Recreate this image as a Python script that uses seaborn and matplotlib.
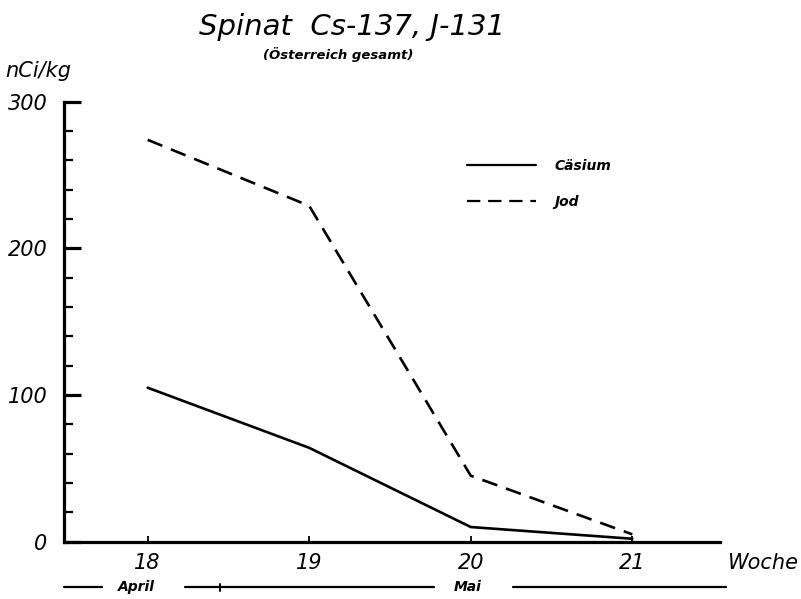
import matplotlib
matplotlib.use("Agg")
import matplotlib.pyplot as plt
import matplotlib.transforms as mtransforms
from matplotlib.ticker import MultipleLocator
import seaborn as sns
import pandas as pd

# Weekly measurements, spinach, all of Austria (nCi/kg)
weeks = [18, 19, 20, 21]
caesium = [105, 64, 10, 2]
iodine = [274, 229, 45, 5]
series_names = ["Cäsium", "Jod"]
week_ticks = [18, 19, 20, 21]
y_ticks = [0, 100, 200, 300]

df = pd.DataFrame({
    "Woche": weeks * 2,
    "Wert": caesium + iodine,
    "Nuklid": [series_names[0]] * len(weeks) + [series_names[1]] * len(weeks),
})

sns.set_theme(style="white")
plt.rcParams["font.family"] = ["DejaVu Sans"]
plt.rcParams["font.style"] = "italic"
plt.rcParams["text.color"] = "black"
plt.rcParams["axes.labelcolor"] = "black"
plt.rcParams["xtick.color"] = "black"
plt.rcParams["ytick.color"] = "black"

fig = plt.figure(figsize=(8.01, 5.99), dpi=100)
ax = fig.add_axes([64 / 801, 1 - 541.7 / 599, 656 / 801, 440 / 599])

sns.lineplot(
    data=df, x="Woche", y="Wert", style="Nuklid",
    dashes={"Cäsium": "", "Jod": (6, 3.5)},
    color="black", linewidth=1.9, ax=ax, legend=True,
)

ax.set_xlim(17.482, 21.543)
ax.set_ylim(0, 300)
ax.set_xticks(week_ticks)
ax.set_xticklabels([str(w) for w in week_ticks], fontsize=15, style="italic")
ax.set_yticks(y_ticks)
ax.set_yticklabels([str(v) for v in y_ticks], fontsize=15, style="italic")
ax.yaxis.set_minor_locator(MultipleLocator(20))
ax.set_xlabel("")
ax.set_ylabel("")

for side in ("top", "right"):
    ax.spines[side].set_visible(False)
for side in ("left", "bottom"):
    ax.spines[side].set_linewidth(2.3)
    ax.spines[side].set_color("black")

ax.tick_params(axis="y", which="major", direction="in", length=12, width=2.3,
               pad=12, colors="black", left=True)
ax.tick_params(axis="y", which="minor", direction="in", length=6.5, width=1.6,
               left=True)
ax.tick_params(axis="x", which="major", direction="in", length=4.5, width=1.3,
               pad=8, colors="black", bottom=True)

leg = ax.legend(
    loc="upper left", bbox_to_anchor=(0.614, 0.87), frameon=False,
    handlelength=5, handletextpad=1.3, labelspacing=1.6,
    borderpad=0, borderaxespad=0, prop={"size": 10, "style": "italic",
                                        "weight": "bold"},
)
leg.set_title(None)
for line in leg.get_lines():
    line.set_linewidth(1.6)
for t in leg.get_texts():
    t.set_color("black")

# Titles and axis captions
fig.text(352 / 801, 1 - 27 / 599, "Spinat  Cs-137, J-131", ha="center",
         va="center", fontsize=21, style="italic", color="black")
fig.text(338 / 801, 1 - 55 / 599, "(Österreich gesamt)", ha="center",
         va="center", fontsize=9.5, style="italic", weight="bold",
         color="black")
fig.text(5 / 801, 1 - 71 / 599, "nCi/kg", ha="left", va="center",
         fontsize=15, style="italic", color="black")
fig.text(728 / 801, 1 - 563 / 599, "Woche", ha="left", va="center",
         fontsize=15, style="italic", color="black")

# Month band below the week axis
trans = mtransforms.blended_transform_factory(ax.transData, ax.transAxes)
band_y = -0.103
segments = [(17.482, 17.72), (18.23, 19.77), (20.26, 21.58)]
for x0, x1 in segments:
    ax.plot([x0, x1], [band_y, band_y], color="black", lw=1.6,
            transform=trans, clip_on=False)
ax.plot([18.45, 18.45], [band_y - 0.008, band_y + 0.008], color="black",
        lw=1.4, transform=trans, clip_on=False)
ax.text(17.93, band_y, "April", transform=trans, ha="center", va="center",
        fontsize=10, style="italic", weight="bold", color="black")
ax.text(19.98, band_y, "Mai", transform=trans, ha="center", va="center",
        fontsize=10, style="italic", weight="bold", color="black")

fig.savefig("out.png", dpi=100)
